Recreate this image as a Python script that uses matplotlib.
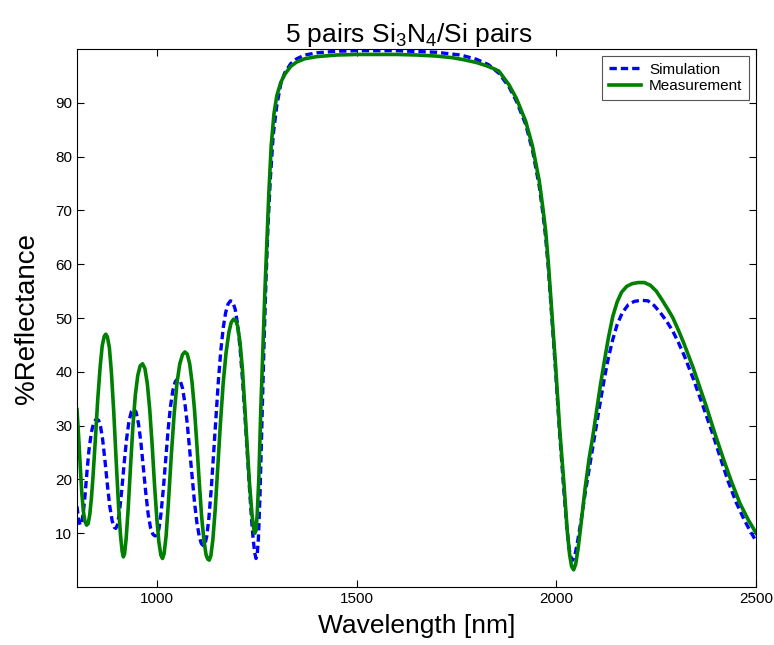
import matplotlib
matplotlib.use("Agg")
import matplotlib.pyplot as plt

plt.rcParams['font.family'] = ['Liberation Sans', 'DejaVu Sans']
plt.rcParams['mathtext.fontset'] = 'custom'
plt.rcParams['mathtext.rm'] = 'Liberation Sans'
plt.rcParams['mathtext.it'] = 'Liberation Sans'

title = r'5 pairs Si$_3$N$_4$/Si pairs'
xlabel = 'Wavelength [nm]'
ylabel = '%Reflectance'
series_names = ['Simulation', 'Measurement']
xticks = [1000, 1500, 2000, 2500]
yticks = [10, 20, 30, 40, 50, 60, 70, 80, 90]

meas_wl = [800, 804, 808, 812, 816, 820, 824, 828, 832, 836, 840, 846, 852, 858, 863, 868, 872, 876,
           881, 886, 892, 898, 904, 909, 913, 916, 919, 923, 928, 934, 940, 946, 952, 958, 964, 970,
           976, 982, 988, 994, 1000, 1005, 1010, 1014, 1018, 1023, 1029, 1036, 1043, 1050, 1057,
           1064, 1070, 1076, 1082, 1088, 1094, 1100, 1106, 1112, 1118, 1123, 1127, 1131, 1135, 1140,
           1146, 1152, 1159, 1166, 1173, 1180, 1186, 1192, 1197, 1202, 1208, 1214, 1220, 1226, 1232,
           1238, 1242, 1245, 1248, 1251, 1255, 1260, 1265, 1270, 1275, 1280, 1286, 1293, 1300, 1310,
           1320, 1335, 1350, 1370, 1400, 1450, 1500, 1600, 1650, 1700, 1740, 1770, 1800, 1825, 1845,
           1856, 1881, 1900, 1923, 1940, 1957, 1966, 1973, 1980, 1988, 1998, 2008, 2019, 2027, 2033,
           2038, 2043, 2048, 2054, 2062, 2072, 2082, 2090, 2100, 2110, 2120, 2130, 2141, 2152, 2163,
           2176, 2190, 2205, 2220, 2235, 2250, 2265, 2280, 2291, 2305, 2320, 2342, 2358, 2375, 2395,
           2417, 2438, 2459, 2480, 2500]
meas_r = [33, 28, 22.5, 17.5, 14, 12.2, 11.5, 11.8, 13.5, 16.5, 20.5, 27.5, 35, 41, 44.8, 46.6, 47, 46.5,
          44.5, 40, 32.5, 23.5, 15, 9.5, 6.6, 5.6, 6.2, 9, 14.5, 22.5, 30, 35.7, 39.3, 41.1, 41.5, 40.6,
          37.8, 33, 26.5, 19, 12.5, 8.3, 5.9, 5.3, 6.2, 9.5, 16, 24.5, 32, 37.8, 41.4,
          43.2, 43.7, 43.3, 41.5, 38, 33, 26.5, 19.5, 13, 8.5, 6, 5.2, 5, 5.8, 8.8,
          14.5, 22, 30.5, 38, 43.5, 47.3, 49.2, 49.8, 49.6, 48.5, 45.5, 40.5, 33.5, 26, 19,
          13.5, 11, 10, 10.5, 13.5, 20, 33, 44, 54.5, 64, 73, 82, 88, 91.3, 93.8,
          95.3, 96.8, 97.6, 98.2, 98.6, 98.9, 99.0, 99.0, 98.9, 98.7, 98.4, 98.0, 97.5, 96.9, 96.3,
          95.9, 93.4, 90.8, 86.6, 82, 75.5, 70.5, 66.2, 60, 51.5, 41, 29.5, 19, 10.5, 6,
          3.8, 3.2, 4.2, 7, 12, 18.5, 24, 27.5, 32.5, 37.5, 42, 46.3, 50.3, 53, 54.8,
          55.9, 56.4, 56.6, 56.6, 56.1, 55, 53.3, 51.5, 50.1, 47.8, 45.1, 40.8, 37.3, 33.6, 28.9,
          24.0, 19.6, 15.6, 12.5, 10]

sim_wl = [800, 804, 808, 812, 816, 820, 825, 830, 836, 842, 848, 854, 859, 864, 870, 876, 882, 888,
          893, 897, 901, 906, 912, 918, 924, 930, 936, 942, 948, 954, 960, 966, 972, 978, 984, 990,
          995, 1000, 1005, 1010, 1016, 1022, 1028, 1034, 1040, 1046, 1052, 1058, 1064, 1070, 1076,
          1082, 1088, 1094, 1100, 1106, 1111, 1116, 1120, 1125, 1130, 1136, 1142, 1148, 1154, 1160,
          1166, 1172, 1178, 1184, 1190, 1196, 1202, 1208, 1214, 1220, 1226, 1232, 1237, 1241, 1245,
          1248, 1251, 1254, 1258, 1263, 1268, 1273, 1278, 1284, 1291, 1300, 1310, 1320, 1335, 1350,
          1370, 1400, 1450, 1500, 1600, 1700, 1760, 1800, 1830, 1856, 1881, 1900, 1923, 1940, 1957,
          1966, 1973, 1980, 1988, 1998, 2008, 2018, 2026, 2032, 2037, 2041, 2046, 2053, 2062, 2072,
          2082, 2090, 2100, 2110, 2120, 2130, 2141, 2152, 2165, 2180, 2195, 2212, 2229, 2245, 2260,
          2275, 2291, 2305, 2320, 2342, 2367, 2390, 2410, 2430, 2450, 2470, 2485, 2500]
sim_r = [15, 12.5, 11.5, 12, 14, 17, 21.5, 25.5, 28.8, 30.6, 31.2, 31, 29.8, 27.5, 23.5, 19, 15, 12.3,
         11.1, 10.9, 11.5, 13.8, 18, 23, 27.5, 30.8, 32.6, 33.1, 32.5, 30.3, 26.8, 22.3, 17.6, 13.6, 11, 9.8,
         9.5, 9.6, 10.8, 13.5, 18.2, 23.8, 29.2, 33.6, 36.6, 38.2, 38.7, 38.4, 37, 34.2, 30.3,
         25.5, 20.5, 15.8, 12, 9.4, 8.1, 7.7, 7.9, 9.5, 12.8, 18.2, 25, 32, 38.5, 44,
         48.2, 51, 52.6, 53.2, 53, 51.6, 48.8, 44.5, 38.8, 32.2, 25, 18, 12.5, 8.8, 6.3,
         5.3, 6, 9, 17, 31, 45, 57, 67, 76, 84, 89.5, 93.5, 95.6, 97.3, 98.2,
         98.9, 99.3, 99.6, 99.7, 99.7, 99.4, 98.9, 98.1, 97.1, 95.5, 93, 90.3, 86, 81.2, 74.5,
         69.5, 65, 59, 50.5, 40, 28.5, 18.5, 11, 7, 5.3, 5, 5.8, 8.5, 12.5, 17.5,
         22, 25.5, 30, 34.5, 38.8, 42.6, 46, 48.8, 51, 52.5, 53.1, 53.3, 53.2, 52.3, 51,
         49.5, 47.6, 45.5, 43, 38.8, 33.6, 28.7, 24.1, 19.6, 15.7, 12.5, 10.4, 8.5]

fig = plt.figure(figsize=(7.74, 6.45), dpi=100)
ax = fig.add_axes([0.0995, 0.0899, 0.8775, 0.834])
ax.plot(sim_wl, sim_r, color='#0000ff', lw=2.4, ls=(0, (2.2, 1.2)), label=series_names[0],
        solid_joinstyle='round', dash_joinstyle='round')
ax.plot(meas_wl, meas_r, color='#008000', lw=2.6, label=series_names[1],
        solid_joinstyle='round')
ax.set_xlim(800, 2500)
ax.set_ylim(0, 100)
ax.set_xticks(xticks)
ax.set_yticks(yticks)
ax.tick_params(direction='in', top=True, right=True, labelsize=11, length=5, width=0.8)
for s in ax.spines.values():
    s.set_linewidth(0.8)
ax.set_title(title, fontsize=19, pad=5, x=0.488)
ax.set_xlabel(xlabel, fontsize=19, labelpad=6)
ax.set_ylabel(ylabel, fontsize=20, labelpad=11)
leg = ax.legend(loc='upper right', fontsize=11, fancybox=False, edgecolor='#555555',
                framealpha=1, borderpad=0.45, handlelength=2.1, handletextpad=0.5,
                labelspacing=0.15, borderaxespad=0.45)
leg.get_frame().set_linewidth(0.8)
fig.savefig('out.png', dpi=100)
